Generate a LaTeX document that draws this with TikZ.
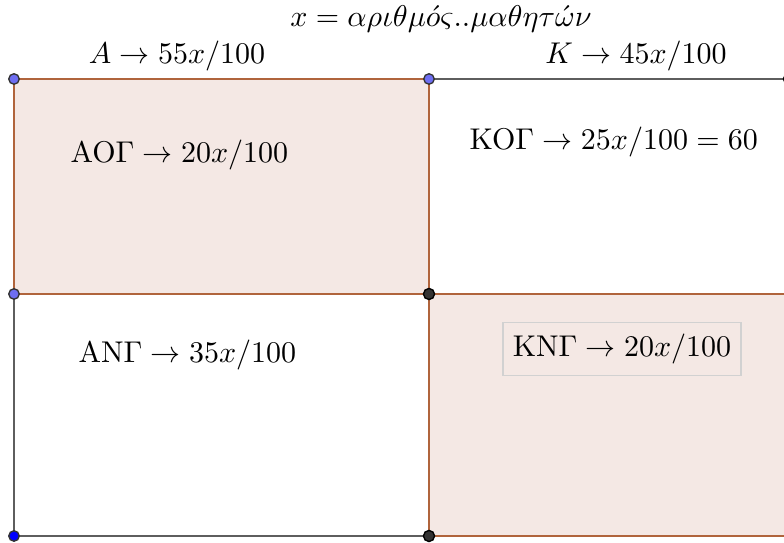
\documentclass[tikz,border=0pt]{standalone}
\usepackage{amsmath}
\definecolor{cellfill}{HTML}{F4E8E4}
\definecolor{cellline}{HTML}{B0643C}
\definecolor{gridline}{HTML}{5E5E5E}
\definecolor{ptblue}{HTML}{6E6EF2}
\definecolor{ptdark}{HTML}{333333}
\tikzset{
  gline/.style={draw=gridline, line width=0.85pt},
  cell/.style={fill=cellfill, draw=cellline, line width=0.85pt},
  ptA/.style={circle, fill=ptblue, draw=ptdark, line width=0.45pt, inner sep=0pt, minimum size=3.5pt},
  ptB/.style={circle, fill=blue, draw=ptdark, line width=0.45pt, inner sep=0pt, minimum size=3.5pt},
  ptC/.style={circle, fill=ptdark, draw=black, line width=0.45pt, inner sep=0pt, minimum size=3.7pt},
  lbl/.style={inner sep=0pt, anchor=west},
}
\begin{document}
\begin{tikzpicture}[x=0.3333pt, y=-0.3333pt]
\useasboundingbox (0,0) rectangle (784,543);
\clip (0,0) rectangle (784,543);
% grid lines
\coordinate (tl) at (14,79);
\coordinate (tm) at (429,79);
\coordinate (tr) at (792,79);
\coordinate (ml) at (14,294);
\coordinate (mm) at (429,294);
\coordinate (mr) at (792,294);
\coordinate (bl) at (14,536);
\coordinate (bm) at (429,536);
\coordinate (br) at (792,536);
\draw[gline] (tm) -- (tr);
\draw[gline] (ml) -- (bl) -- (bm);
\draw[cell] (mm) rectangle (br);
\draw[cell] (tl) rectangle (mm);
% points
\node[ptA] (p1) at (tl) {};
\node[ptA] (p2) at (tm) {};
\node[ptA] (p3) at (ml) {};
\node[ptB] (p4) at (bl) {};
\node[ptC] (p5) at (mm) {};
\node[ptC] (p6) at (bm) {};
\node[ptC] (p7) at (789,79) {};
% texts
\node (title) at (441,19) {$x=\alpha\rho\iota\theta\mu\acute{o}\varsigma..\mu\alpha\theta\eta\tau\acute{\omega}\nu$};
\node (A) at (177,56) {$A\rightarrow 55x/100$};
\node (K) at (636,56) {$K\rightarrow 45x/100$};
\node[lbl] (aog) at (70,155) {$\mathrm{AO}\Gamma\rightarrow 20x/100$};
\node[lbl] (kog) at (469,142) {$\mathrm{KO}\Gamma\rightarrow 25x/100=60$};
\node[lbl] (ang) at (78,355) {$\mathrm{AN}\Gamma\rightarrow 35x/100$};
\node[draw=black!18, line width=0.5pt, fill=cellfill, minimum width=238*0.3333pt, minimum height=53*0.3333pt, inner sep=0pt] (kng) at (622,349) {$\mathrm{KN}\Gamma\rightarrow 20x/100$};
\end{tikzpicture}
\end{document}
